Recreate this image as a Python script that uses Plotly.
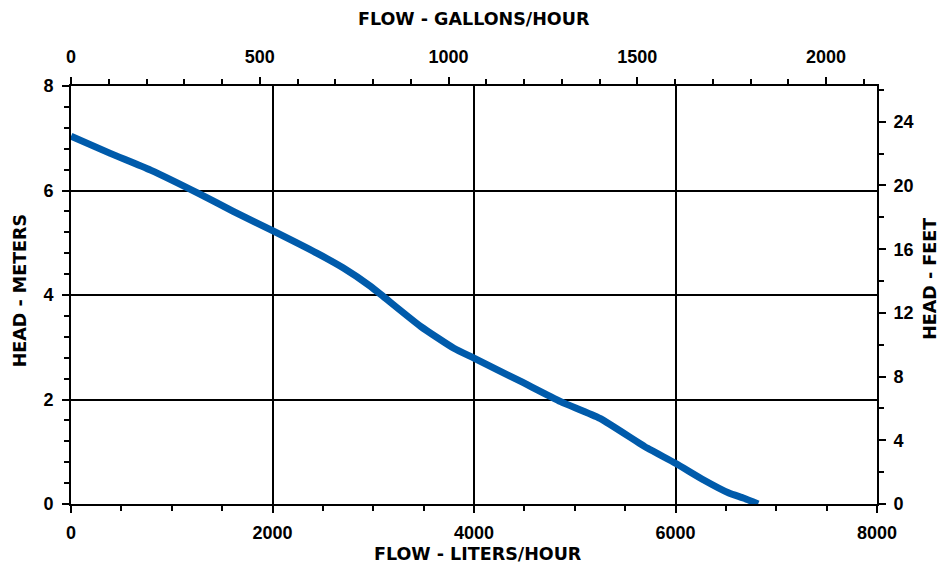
import plotly.graph_objects as go

# Pump curve
flow_lph = [0, 390, 790, 1280, 1610, 2000, 2440, 2700, 2970, 3100, 3470, 3800, 4000,
            4460, 4860, 5250, 5720, 6000, 6280, 6530, 6680, 6820]
head_m = [7.04, 6.71, 6.39, 5.93, 5.60, 5.23, 4.80, 4.52, 4.17, 3.97, 3.40, 2.98, 2.79,
          2.35, 1.96, 1.64, 1.07, 0.78, 0.46, 0.21, 0.11, 0.0]

x_title = "FLOW - LITERS/HOUR"
x2_title = "FLOW - GALLONS/HOUR"
y_title = "HEAD - METERS"
y2_title = "HEAD - FEET"

L_PER_GAL = 3.785
M_PER_FT = 0.3048
x_max = 8000
y_max = 8
x2_max = 2135
y2_max = y_max / M_PER_FT

tick_font = dict(family="Liberation Sans, Arial, sans-serif", size=18, color="black", weight="bold")
title_font = dict(family="DejaVu Sans, sans-serif", size=17.5, color="black", weight="bold")

fig = go.Figure()
fig.add_trace(go.Scatter(x=flow_lph, y=head_m, mode="lines",
                         line=dict(color="#005bab", width=7, shape="spline", smoothing=0.5),
                         hoverinfo="skip", showlegend=False, xaxis="x", yaxis="y"))
# invisible trace to activate the secondary axes
fig.add_trace(go.Scatter(x=[v / L_PER_GAL for v in flow_lph],
                         y=[v / M_PER_FT for v in head_m],
                         mode="lines", line=dict(width=0), opacity=0,
                         hoverinfo="skip", showlegend=False, xaxis="x2", yaxis="y2"))

axis_common = dict(showline=True, linecolor="black", linewidth=2, ticks="outside",
                   tickcolor="black", tickwidth=2, ticklen=7, tickfont=tick_font,
                   zeroline=False, automargin=False)

fig.update_layout(
    width=933, height=557,
    margin=dict(l=63, r=64, t=78, b=61),
    paper_bgcolor="white", plot_bgcolor="white",
    xaxis=dict(range=[0, x_max], dtick=2000, showgrid=True, gridcolor="black", gridwidth=1.5,
               minor=dict(dtick=500, ticks="outside", ticklen=5, tickwidth=2, tickcolor="black",
                          showgrid=False),
               ticklabelstandoff=4, **axis_common),
    xaxis2=dict(range=[0, x2_max], dtick=500, overlaying="x", side="top", anchor="y",
                showgrid=False,
                minor=dict(dtick=100, ticks="outside", ticklen=5, tickwidth=2, tickcolor="black"),
                ticklabelstandoff=7, **axis_common),
    yaxis=dict(range=[0, y_max], dtick=2, showgrid=True, gridcolor="black", gridwidth=1.5,
               minor=dict(dtick=0.4, ticks="outside", ticklen=5, tickwidth=2, tickcolor="black",
                          showgrid=False),
               ticklabelstandoff=5, **axis_common),
    yaxis2=dict(range=[0, y2_max], dtick=4, overlaying="y", side="right", anchor="x",
                showgrid=False,
                minor=dict(dtick=2, ticks="outside", ticklen=5, tickwidth=2, tickcolor="black"),
                ticklabelstandoff=4, **axis_common),
    annotations=[
        dict(text=x_title, xref="paper", yref="paper", x=0.505, y=-0.1455,
             xanchor="center", yanchor="bottom", showarrow=False, font=title_font, borderpad=0),
        dict(text=x2_title, xref="paper", yref="paper", x=0.5, y=1.186,
             xanchor="center", yanchor="top", showarrow=False, font=title_font, borderpad=0),
        dict(text=y_title, xref="paper", yref="paper", x=-0.0775, y=0.51, textangle=-90,
             xanchor="left", yanchor="middle", showarrow=False, font=title_font, borderpad=0),
        dict(text=y2_title, xref="paper", yref="paper", x=1.079, y=0.538, textangle=-90,
             xanchor="right", yanchor="middle", showarrow=False, font=title_font, borderpad=0),
    ],
)

fig.write_html("out.html")
